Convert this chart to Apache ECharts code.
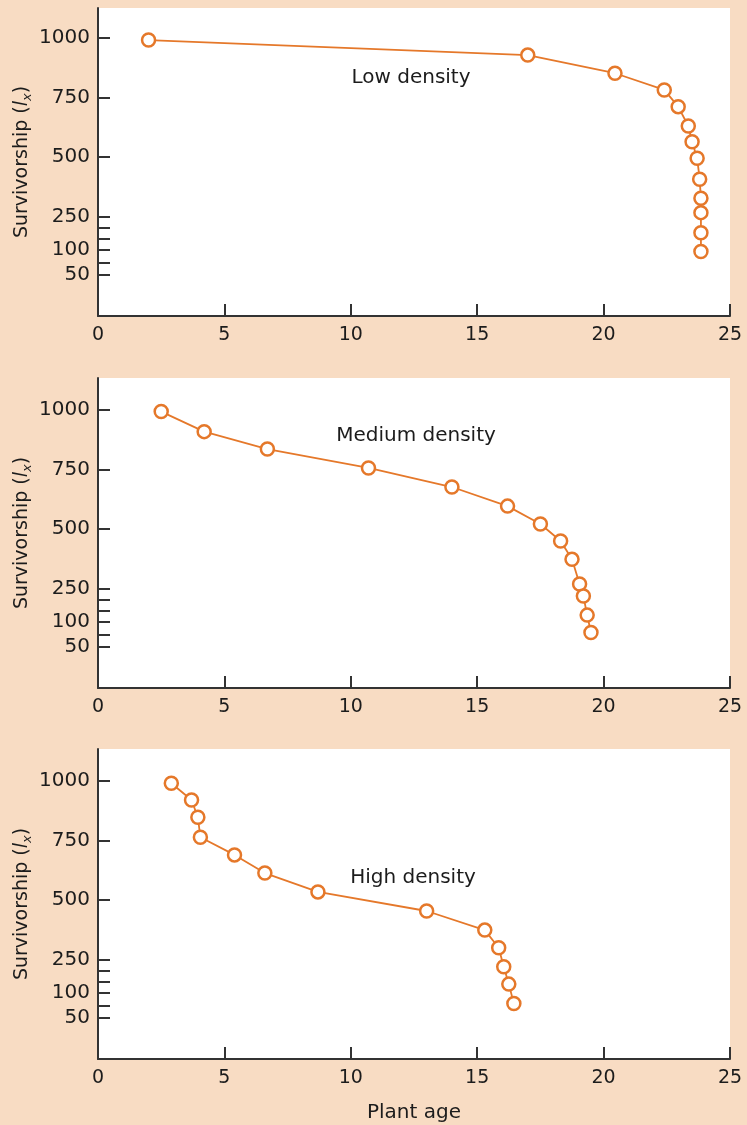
<!DOCTYPE html>
<html>
<head>
<meta charset="utf-8">
<script src="https://cdn.jsdelivr.net/npm/echarts@6/dist/echarts.min.js"></script>
<style>
  html, body { margin: 0; padding: 0; background: #f8dcc3; }
  #chart { width: 747px; height: 1125px; }
</style>
</head>
<body>
<div id="chart"></div>
<script>
// survivorship data
var ageLow  = [2.0, 17.0, 20.45, 22.4, 22.95, 23.35, 23.5, 23.7, 23.8, 23.85, 23.85, 23.85, 23.85];
var lxLow   = [990, 927, 851, 781, 711, 630, 564, 495, 407, 327, 267, 178, 97];
var ageMed  = [2.5, 4.2, 6.7, 10.7, 14.0, 16.2, 17.5, 18.3, 18.75, 19.05, 19.2, 19.35, 19.5];
var lxMed   = [992, 908, 835, 756, 676, 596, 521, 450, 373, 270, 217, 131, 79];
var ageHigh = [2.9, 3.7, 3.95, 4.05, 5.4, 6.6, 8.7, 13.0, 15.3, 15.85, 16.05, 16.25, 16.45];
var lxHigh  = [989, 919, 847, 763, 689, 613, 534, 454, 374, 300, 218, 140, 79];

var panelNames = ['Low density', 'Medium density', 'High density'];
var yLabels = [50, 100, 250, 500, 750, 1000];
var yTicks  = [50, 75, 100, 150, 200, 250, 500, 750, 1000];

var ORANGE = '#e5782a';
var AXIS = '#333333';
var TEXT = '#1c1c1c';
var FONT = 'DejaVu Sans';

// the printed axis is stretched below 250 - piecewise scale
function pos(v) {
    if (v >= 250) return 99.3 + (v - 250) * 0.2387;
    if (v >= 100) return 66 + (v - 100) * (33.3 / 150);
    if (v >= 50) return 41 + (v - 50) * 0.5;
    return v * 0.82;
}
function labelFor(p) {
    var best = '', d = 1e9;
    yLabels.forEach(function (v) {
        if (Math.abs(pos(v) - p) < d) { d = Math.abs(pos(v) - p); best = String(v); }
    });
    return best;
}

var grids = [
    { left: 98, width: 632, top: 8, height: 308 },
    { left: 98, width: 632, top: 378, height: 310 },
    { left: 98, width: 632, top: 749, height: 310 }
];
var ages = [ageLow, ageMed, ageHigh];
var lxs = [lxLow, lxMed, lxHigh];
var labelPos = [[411, 78], [416, 436], [413, 878]];

var option = {
    backgroundColor: '#f8dcc3',
    animation: false,
    grid: grids.map(function (g) {
        return Object.assign({ show: true, backgroundColor: '#ffffff', borderWidth: 0, outerBoundsMode: 'none' }, g);
    }),
    xAxis: grids.map(function (g, i) {
        return {
            gridIndex: i, type: 'value', min: 0, max: 25, interval: 5,
            splitLine: { show: false },
            axisLine: { lineStyle: { color: AXIS, width: 2 } },
            axisTick: { inside: true, length: 12, lineStyle: { color: AXIS, width: 2 } },
            axisLabel: { color: TEXT, fontSize: 19, fontFamily: FONT, margin: 10 },
            name: i === 2 ? 'Plant age' : '',
            nameLocation: 'middle', nameGap: 44,
            nameTextStyle: { color: TEXT, fontSize: 20, fontFamily: FONT }
        };
    }),
    yAxis: grids.map(function (g, i) {
        return {
            gridIndex: i, type: 'value', min: 0, max: g.height,
            splitLine: { show: false },
            axisLine: { lineStyle: { color: AXIS, width: 2 } },
            axisTick: { inside: true, length: 12, customValues: yTicks.map(pos), lineStyle: { color: AXIS, width: 2 } },
            axisLabel: {
                color: TEXT, fontSize: 20, fontFamily: FONT, margin: 8,
                customValues: yLabels.map(pos),
                formatter: function (val) { return labelFor(val); }
            },
            name: 'Survivorship ({it|l}{sub|x})',
            nameLocation: 'middle', nameGap: 64, nameMoveOverlap: false,
            nameTextStyle: {
                color: TEXT, fontSize: 19, fontFamily: FONT,
                rich: {
                    it: { fontSize: 19, fontStyle: 'italic', fontFamily: FONT, color: TEXT },
                    sub: { fontSize: 13, fontStyle: 'italic', fontFamily: FONT, color: TEXT, padding: [10, 0, 0, 0] }
                }
            }
        };
    }),
    series: ages.map(function (a, i) {
        return {
            type: 'line', xAxisIndex: i, yAxisIndex: i,
            data: a.map(function (x, k) { return [x, pos(lxs[i][k])]; }),
            symbol: 'circle', symbolSize: 13,
            lineStyle: { color: ORANGE, width: 1.8 },
            itemStyle: { color: '#ffffff', borderColor: ORANGE, borderWidth: 2.5 },
            z: 3
        };
    }),
    graphic: panelNames.map(function (t, i) {
        return {
            type: 'text', x: labelPos[i][0], y: labelPos[i][1],
            style: { text: t, fill: TEXT, font: '20px "DejaVu Sans"', align: 'center', verticalAlign: 'middle' },
            z: 10
        };
    })
};

var myChart = echarts.init(document.getElementById('chart'));
myChart.setOption(option);
</script>
</body>
</html>
